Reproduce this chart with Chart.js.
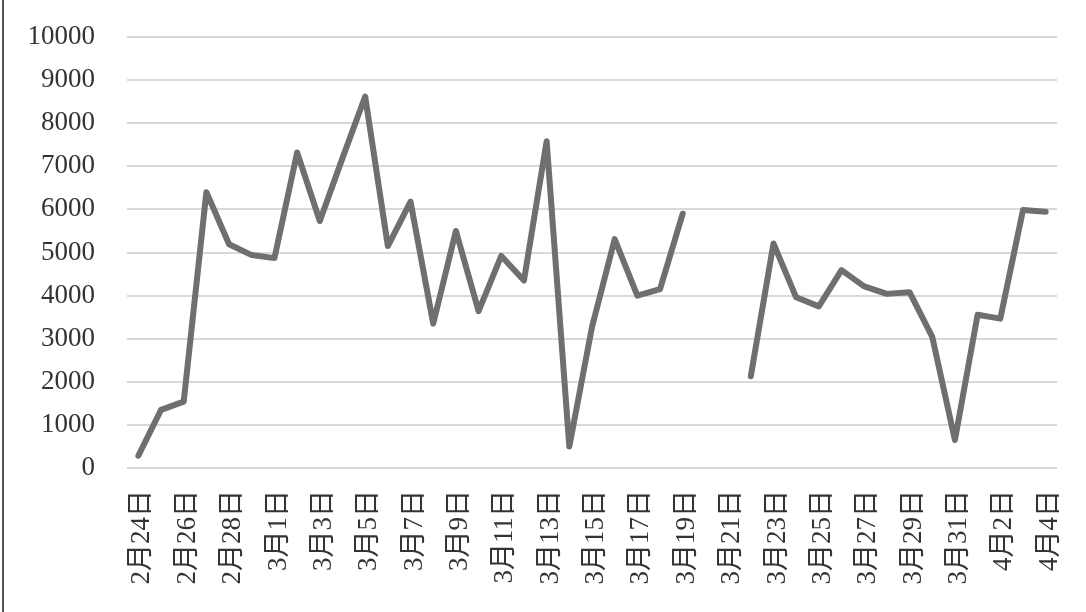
<!DOCTYPE html>
<html>
<head>
<meta charset="utf-8">
<script src="https://cdn.jsdelivr.net/npm/chart.js@4"></script>
<style>
  html, body { margin: 0; padding: 0; background: #fff; }
  #wrap { position: relative; width: 1086px; height: 612px; }
  #frame { position: absolute; left: 2px; top: 0; width: 2px; height: 612px; background: #555; }
  canvas { display: block; }
</style>
</head>
<body>
<div id="wrap">
  <canvas id="c" width="1086" height="612"></canvas>
  <div id="frame"></div>
</div>
<script>
const categories = [
  "2月24日","2月25日","2月26日","2月27日","2月28日","2月29日",
  "3月1日","3月2日","3月3日","3月4日","3月5日","3月6日","3月7日","3月8日","3月9日","3月10日",
  "3月11日","3月12日","3月13日","3月14日","3月15日","3月16日","3月17日","3月18日","3月19日","3月20日",
  "3月21日","3月22日","3月23日","3月24日","3月25日","3月26日","3月27日","3月28日","3月29日","3月30日","3月31日",
  "4月1日","4月2日","4月3日","4月4日"
];
const values = [
  285, 1350, 1540, 6400, 5190, 4940,
  4870, 7320, 5730, 7190, 8620, 5150, 6180, 3350, 5500, 3640,
  4920, 4350, 7580, 500, 3270, 5310, 4000, 4150, 5900, null,
  null, 2130, 5210, 3960, 3750, 4590, 4215, 4040, 4080, 3040, 650,
  3555, 3465, 5985, 5945
];
const yTicks = [0, 1000, 2000, 3000, 4000, 5000, 6000, 7000, 8000, 9000, 10000];

const FONT = '"Liberation Serif", "Times New Roman", "Noto Sans CJK SC", serif';
const TEXT = '#333333';

new Chart(document.getElementById('c'), {
  type: 'line',
  data: {
    labels: categories,
    datasets: [{
      data: values,
      borderColor: '#6f6f6f',
      borderWidth: 6,
      borderJoinStyle: 'round',
      borderCapStyle: 'round',
      pointRadius: 0,
      pointHoverRadius: 0,
      tension: 0,
      spanGaps: false,
      fill: false
    }]
  },
  options: {
    responsive: false,
    animation: false,
    events: [],
    layout: { padding: { top: 37, right: 29, left: 0, bottom: 0 } },
    plugins: { legend: { display: false }, tooltip: { enabled: false } },
    scales: {
      x: {
        offset: true,
        grid: { display: false, drawTicks: false },
        border: { display: false },
        afterFit: s => { s.height = 144; s.paddingLeft = 0; s.paddingRight = 0; },
        ticks: {
          autoSkip: false,
          maxRotation: 90,
          minRotation: 90,
          padding: 22,
          labelOffset: 4,
          color: TEXT,
          font: { family: FONT, size: 27 },
          callback: function (v, i) { return i % 2 === 0 ? categories[i] : ''; }
        }
      },
      y: {
        min: yTicks[0],
        max: yTicks[yTicks.length - 1],
        afterBuildTicks: s => { s.ticks = yTicks.map(v => ({ value: v })); },
        afterFit: s => { s.width = 127; s.paddingTop = 0; s.paddingBottom = 0; },
        grid: { color: '#d9d9d9', lineWidth: 2, drawTicks: false },
        border: { display: false },
        ticks: {
          padding: 32,
          color: TEXT,
          font: { family: FONT, size: 27 },
          callback: v => String(v)
        }
      }
    }
  }
});
</script>
</body>
</html>
